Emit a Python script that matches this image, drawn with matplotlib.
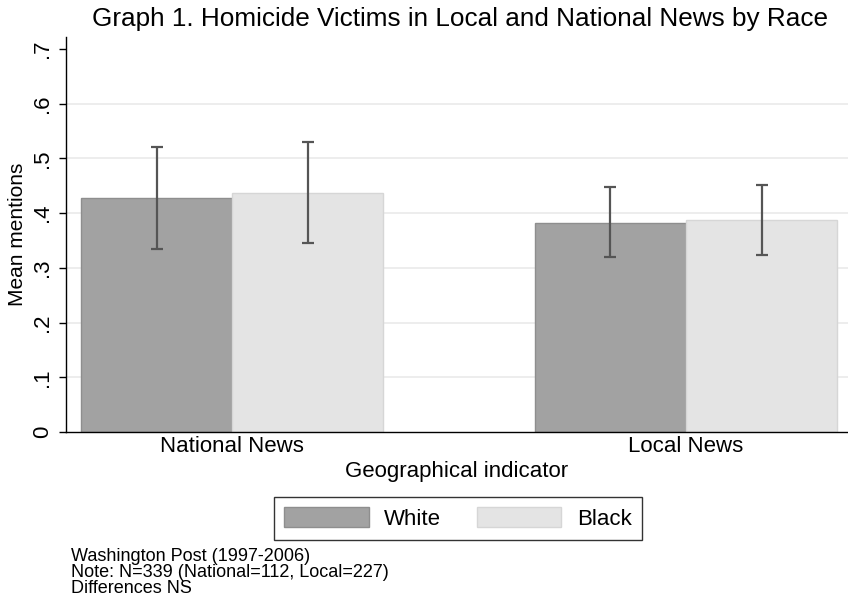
import numpy as np
import matplotlib
matplotlib.use("Agg")
import matplotlib.pyplot as plt
from matplotlib.patches import Patch

plt.rcParams["font.family"] = ["Liberation Sans", "DejaVu Sans"]

# ── Data ─────────────────────────────────────────────────────────────────────

groups = ["National News", "Local News"]
races = ["White", "Black"]

white_mean = [0.428, 0.382]
white_lo = [0.335, 0.319]
white_hi = [0.521, 0.447]

black_mean = [0.437, 0.388]
black_lo = [0.345, 0.323]
black_hi = [0.530, 0.451]

yticks = [0, 0.1, 0.2, 0.3, 0.4, 0.5, 0.6, 0.7]
ytick_labels = ["0", ".1", ".2", ".3", ".4", ".5", ".6", ".7"]

notes = [
    "Washington Post (1997-2006)",
    "Note: N=339 (National=112, Local=227)",
    "Differences NS",
]

# ── Plot ─────────────────────────────────────────────────────────────────────

fig = plt.figure(figsize=(8.48, 6.03), dpi=100)
ax = fig.add_axes([0.0778, 0.2836, 0.9222, 0.655])

x = np.arange(len(groups))
w = 0.333
colors = {"White": ("#a2a2a2", "#8e8e8e"), "Black": ("#e4e4e4", "#d6d6d6")}
series = [
    (white_mean, white_lo, white_hi, -w / 2, "White"),
    (black_mean, black_lo, black_hi, w / 2, "Black"),
]

for mean, lo, hi, off, name in series:
    fc, ec = colors[name]
    ax.bar(x + off, mean, width=w, color=fc, edgecolor=ec, linewidth=1, zorder=2)
    mean = np.array(mean)
    err = [mean - np.array(lo), np.array(hi) - mean]
    ax.errorbar(x + off, mean, yerr=err, fmt="none", ecolor="#555555",
                elinewidth=1.6, capsize=4, capthick=1.6, zorder=3)

ax.set_xlim(-0.366, 1.357)
ax.set_ylim(0, 0.722)

ax.set_yticks(yticks)
ax.set_yticklabels(ytick_labels, rotation=90, va="center", fontsize=16)
for y in yticks[1:-1]:
    ax.axhline(y, color="#eaeaea", linewidth=1.2, zorder=1)

ax.set_xticks(x)
ax.set_xticklabels(groups, fontsize=16)
ax.tick_params(axis="x", length=0, pad=3)
ax.tick_params(axis="y", length=5, width=1, pad=4)

ax.spines["top"].set_visible(False)
ax.spines["right"].set_visible(False)
ax.spines["left"].set_linewidth(1)
ax.spines["bottom"].set_linewidth(1)

ax.set_ylabel("Mean mentions", fontsize=15, labelpad=4)
ax.set_xlabel("Geographical indicator", fontsize=16, labelpad=3)

fig.text(0.543, 0.968, "Graph 1. Homicide Victims in Local and National News by Race",
         ha="center", va="center", fontsize=18.8)

handles = [Patch(facecolor=colors[r][0], edgecolor=colors[r][1]) for r in races]
leg = fig.legend(handles, races, loc="center", bbox_to_anchor=(0.540, 0.140),
                 ncol=2, fontsize=16, frameon=True, fancybox=False,
                 edgecolor="black", handlelength=3.8, handleheight=1.0,
                 columnspacing=1.6, handletextpad=0.7, borderpad=0.45)
leg.get_frame().set_linewidth(1)

fig.text(0.084, 0.091, "\n".join(notes), ha="left", va="top",
         fontsize=13, linespacing=0.92)

fig.savefig("out.png", dpi=100)
